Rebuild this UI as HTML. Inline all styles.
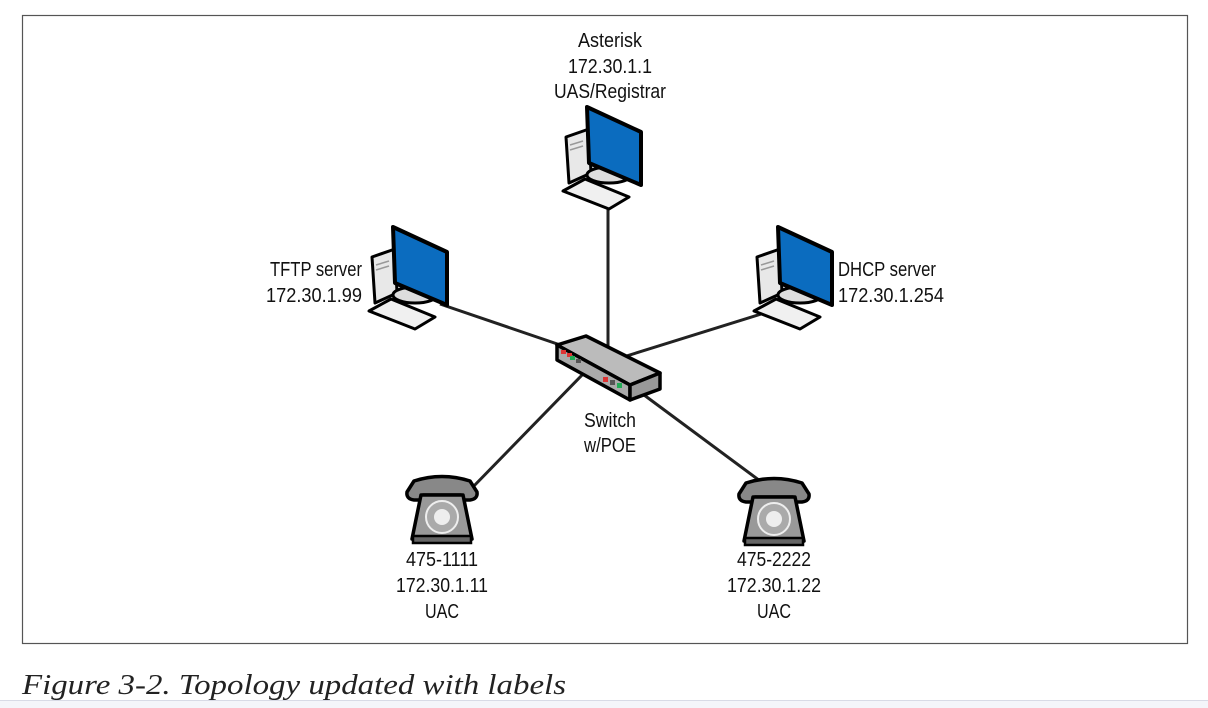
<!DOCTYPE html>
<html><head><meta charset="utf-8"><style>
html,body{margin:0;padding:0;background:#fff;}
svg{display:block;}
.l{font-family:"Liberation Sans",sans-serif;font-size:20px;fill:#111;}
</style></head><body>
<svg width="1208" height="708" viewBox="0 0 1208 708" xmlns="http://www.w3.org/2000/svg">
<defs>
<g id="pc">
  <polygon points="5,32 28,24 30,68 8,78" fill="#e8e8e8" stroke="#000" stroke-width="3" stroke-linejoin="round"/>
  <line x1="9" y1="40" x2="22" y2="36" stroke="#999" stroke-width="1.5"/>
  <line x1="9" y1="45" x2="22" y2="41" stroke="#999" stroke-width="1.5"/>
  <ellipse cx="48" cy="70" rx="22" ry="8" fill="#ddd" stroke="#000" stroke-width="3"/>
  <polygon points="26,2 80,27 80,80 28,58" fill="#0b6cbf" stroke="#000" stroke-width="4" stroke-linejoin="round"/>
  <polygon points="2,86 24,74 68,92 48,104" fill="#f0f0f0" stroke="#000" stroke-width="3" stroke-linejoin="round"/>
</g>
<g id="ph">
  <path d="M-35,8 L-28,-3 Q0,-12 28,-3 L35,8 Q36,15 28,16 L21,16 L19,11 L-19,11 L-21,16 L-28,16 Q-36,15 -35,8 Z" fill="#888" stroke="#000" stroke-width="3.5" stroke-linejoin="round"/>
  <polygon points="-21,11 21,11 30,55 -30,55" fill="#999" stroke="#000" stroke-width="3.5" stroke-linejoin="round"/>
  <circle cx="0" cy="33" r="16" fill="#aaa" stroke="#eee" stroke-width="2"/>
  <circle cx="0" cy="33" r="8" fill="#eee"/>
  <rect x="-29" y="52" width="58" height="7" fill="#666" stroke="#000" stroke-width="2.5"/>
</g>
</defs>
<rect x="0" y="0" width="1208" height="708" fill="#fff"/>
<rect x="22.5" y="15.5" width="1165" height="628" fill="#fff" stroke="#555" stroke-width="1.2"/>
<g stroke="#222" stroke-width="3">
<line x1="608" y1="195" x2="608" y2="350"/>
<line x1="440" y1="304" x2="575" y2="350"/>
<line x1="790" y1="305" x2="620" y2="358"/>
<line x1="470" y1="490" x2="585" y2="372"/>
<line x1="775" y1="492" x2="640" y2="392"/>
</g>
<use href="#pc" x="561" y="105"/>
<use href="#pc" x="367" y="225"/>
<use href="#pc" x="752" y="225"/>
<polygon points="557,345 586,336 660,373 630,385" fill="#bbb" stroke="#000" stroke-width="3.5" stroke-linejoin="round"/>
<polygon points="557,345 630,385 630,400 557,360" fill="#aaa" stroke="#000" stroke-width="3.5" stroke-linejoin="round"/>
<polygon points="630,385 660,373 660,389 630,400" fill="#999" stroke="#000" stroke-width="3.5" stroke-linejoin="round"/>
<rect x="561" y="350" width="5" height="4" fill="#d33"/><rect x="567" y="353" width="5" height="4" fill="#d33"/>
<rect x="570" y="356" width="5" height="4" fill="#2a5"/><rect x="576" y="359" width="5" height="4" fill="#555"/>
<rect x="603" y="377" width="5" height="5" fill="#d33"/><rect x="610" y="380" width="5" height="5" fill="#555"/><rect x="617" y="383" width="5" height="5" fill="#2a5"/>
<use href="#ph" x="442" y="484"/>
<use href="#ph" x="774" y="486"/>
<g class="l" text-anchor="middle">
<text x="610" y="47" class="l" textLength="64" lengthAdjust="spacingAndGlyphs">Asterisk</text>
<text x="610" y="73" class="l" textLength="84" lengthAdjust="spacingAndGlyphs">172.30.1.1</text>
<text x="610" y="98" class="l" textLength="112" lengthAdjust="spacingAndGlyphs">UAS/Registrar</text>
<text x="610" y="427" class="l" textLength="52" lengthAdjust="spacingAndGlyphs">Switch</text>
<text x="610" y="452" class="l" textLength="52" lengthAdjust="spacingAndGlyphs">w/POE</text>
<text x="442" y="566" class="l" textLength="72" lengthAdjust="spacingAndGlyphs">475-1111</text>
<text x="442" y="592" class="l" textLength="92" lengthAdjust="spacingAndGlyphs">172.30.1.11</text>
<text x="442" y="618" class="l" textLength="34" lengthAdjust="spacingAndGlyphs">UAC</text>
<text x="774" y="566" class="l" textLength="74" lengthAdjust="spacingAndGlyphs">475-2222</text>
<text x="774" y="592" class="l" textLength="94" lengthAdjust="spacingAndGlyphs">172.30.1.22</text>
<text x="774" y="618" class="l" textLength="34" lengthAdjust="spacingAndGlyphs">UAC</text>
</g>
<text x="362" y="276" class="l" text-anchor="end" textLength="92" lengthAdjust="spacingAndGlyphs">TFTP server</text>
<text x="362" y="302" class="l" text-anchor="end" textLength="96" lengthAdjust="spacingAndGlyphs">172.30.1.99</text>
<text x="838" y="276" class="l" textLength="98" lengthAdjust="spacingAndGlyphs">DHCP server</text>
<text x="838" y="302" class="l" textLength="106" lengthAdjust="spacingAndGlyphs">172.30.1.254</text>
<text x="22" y="694" font-family="Liberation Serif,serif" font-style="italic" font-size="29" fill="#222" textLength="544" lengthAdjust="spacingAndGlyphs">Figure 3-2. Topology updated with labels</text>
<rect x="0" y="700" width="1208" height="8" fill="#f4f5fa"/>
<line x1="0" y1="700.5" x2="1208" y2="700.5" stroke="#d8dae6" stroke-width="1"/>
</svg>
</body></html>
